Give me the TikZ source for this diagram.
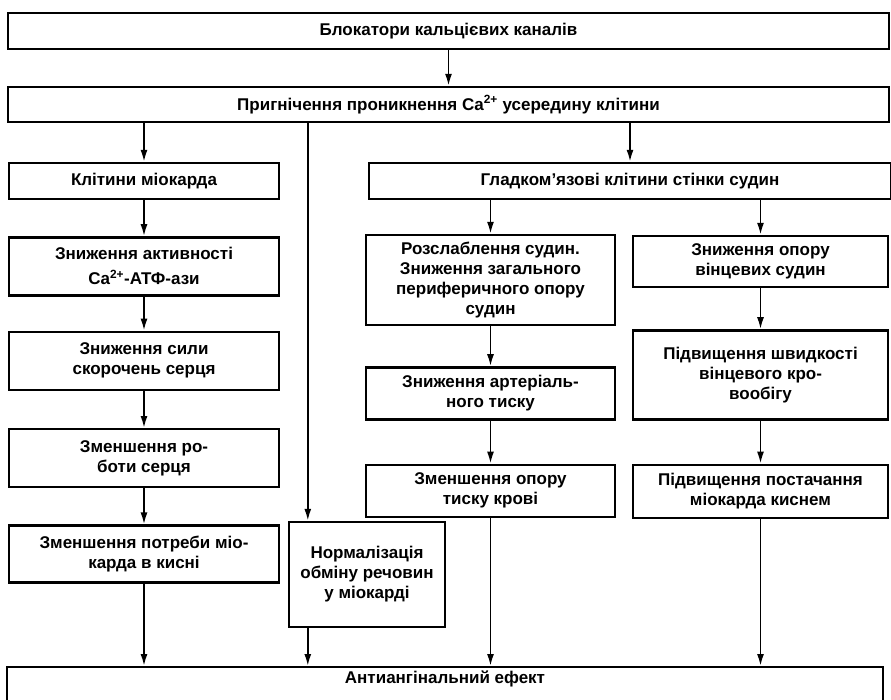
\documentclass[tikz,border=0pt]{standalone}
\usepackage{fontspec}
\setmainfont{Liberation Sans}
\usepackage{tikz}
\usetikzlibrary{arrows.meta,positioning}

\begin{document}
\begin{tikzpicture}[
  x=1pt, y=-1pt,
  node distance=36pt,
  box/.style={draw=black,line width=2.4pt,fill=white,inner sep=2pt,align=center,font=\fontsize{17}{20}\selectfont\bfseries},
  arrow/.style={-{Latex[length=12pt,width=7pt]},line width=1.8pt,draw=black}
]
\useasboundingbox (0,0) rectangle (891,699);
% top of the chart
\node[box,minimum width=881pt,minimum height=36pt] (blockers) at (448.5,31) {Блокатори кальцієвих каналів};
\node[box,minimum width=881pt,minimum height=35pt] (inhibit) at (448.5,104.5) {Пригнічення проникнення Ca\textsuperscript{2+} усередину клітини};
% myocardium column
\node[box,minimum width=270pt,minimum height=36pt] (myocells) at (144,181) {Клітини міокарда};
\node[box,below=of myocells,minimum width=270pt,minimum height=58pt] (atpase) {Зниження активності\\[5pt]Ca\textsuperscript{2+}-АТФ-ази};
\node[box,below=34pt of atpase,minimum width=270pt,minimum height=58pt] (force) {Зниження сили\\скорочень серця};
\node[box,below=37pt of force,minimum width=270pt,minimum height=58pt] (work) {Зменшення ро-\\боти серця};
\node[box,below=of work,minimum width=270pt,minimum height=57pt] (demand) {Зменшення потреби міо-\\карда в кисні};
% metabolism
\node[box,minimum width=156pt,minimum height=105pt] (metab) at (367,574.5) {Нормалізація\\обміну речовин\\у міокарді};
\coordinate (metabin) at ([xshift=20pt]metab.north west);
% vessel wall columns
\node[box,minimum width=522pt,minimum height=36pt] (smooth) at (630,181) {Гладком'язові клітини стінки судин};
\node[box,minimum width=249pt,minimum height=90pt] (relax) at (490.5,280) {Розслаблення судин.\\Зниження загального\\периферичного опору\\судин};
\node[box,below=40pt of relax,minimum width=249pt,minimum height=52pt] (pressure) {Зниження артеріаль-\\ного тиску};
\node[box,below=43pt of pressure,minimum width=249pt,minimum height=52pt] (afterload) {Зменшення опору\\тиску крові};
\node[box,minimum width=255pt,minimum height=51pt] (coronary) at (760.5,261.5) {Зниження опору\\вінцевих судин};
\node[box,below=41pt of coronary,minimum width=255pt,minimum height=89pt] (flow) {Підвищення швидкості\\вінцевого кро-\\вообігу};
\node[box,below=43pt of flow,minimum width=255pt,minimum height=53pt] (supply) {Підвищення постачання\\міокарда киснем};
% result
\node[box,anchor=north,minimum width=876pt,text depth=22pt,inner ysep=4pt] (effect) at (445,666) {Антиангінальний ефект};

\draw[arrow] (blockers) -- (inhibit);
\draw[arrow] (inhibit.south -| myocells.north) -- (myocells);
\draw[arrow] (inhibit.south -| metabin) -- (metabin);
\draw[arrow] (inhibit.south -| smooth.north) -- (smooth);
\draw[arrow] (myocells) -- (atpase);
\draw[arrow] (atpase) -- (force);
\draw[arrow] (force) -- (work);
\draw[arrow] (work) -- (demand);
\draw[arrow] (smooth.south -| relax.north) -- (relax);
\draw[arrow] (smooth.south -| coronary.north) -- (coronary);
\draw[arrow] (relax) -- (pressure);
\draw[arrow] (pressure) -- (afterload);
\draw[arrow] (coronary) -- (flow);
\draw[arrow] (flow) -- (supply);
\draw[arrow] (demand.south) -- (effect.north -| demand.south);
\draw[arrow] (metab.south -| metabin) -- (effect.north -| metabin);
\draw[arrow] (afterload.south) -- (effect.north -| afterload.south);
\draw[arrow] (supply.south) -- (effect.north -| supply.south);
\end{tikzpicture}
\end{document}
